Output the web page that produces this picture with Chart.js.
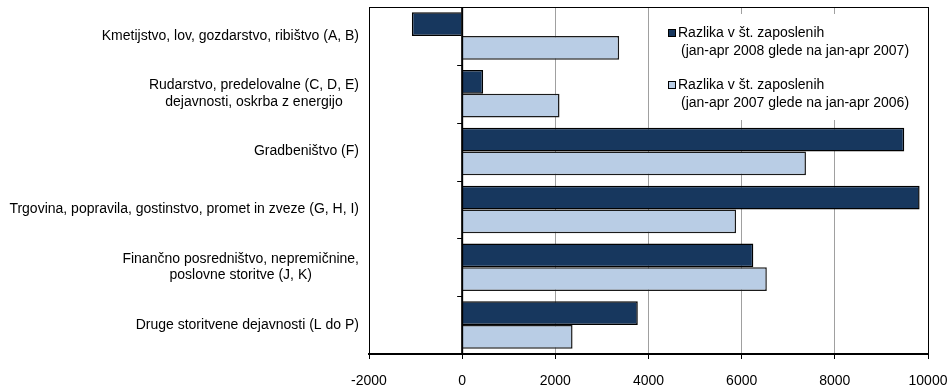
<!DOCTYPE html>
<html>
<head>
<meta charset="utf-8">
<script src="https://cdn.jsdelivr.net/npm/chart.js@4/dist/chart.umd.min.js"></script>
<style>
  html, body { margin: 0; padding: 0; background: #fff; }
  #wrap { width: 949px; height: 389px; }
</style>
</head>
<body>
<div id="wrap"><canvas id="c" width="949" height="389"></canvas></div>
<script>
// Activity sectors (multi-line labels)
const categories = [
  ['Kmetijstvo, lov, gozdarstvo, ribištvo (A, B)'],
  ['Rudarstvo, predelovalne (C, D, E)', 'dejavnosti, oskrba z energijo'],
  ['Gradbeništvo (F)'],
  ['Trgovina, popravila, gostinstvo, promet in zveze (G, H, I)'],
  ['Finančno posredništvo, nepremičnine,', 'poslovne storitve (J, K)'],
  ['Druge storitvene dejavnosti (L do P)']
];
// Change in number of employees
const change2008 = [-1080, 450, 9490, 9820, 6250, 3770];
const change2007 = [3370, 2090, 7380, 5880, 6540, 2370];
const seriesNames = [
  ['Razlika v št. zaposlenih', '(jan-apr 2008 glede na jan-apr 2007)'],
  ['Razlika v št. zaposlenih', '(jan-apr 2007 glede na jan-apr 2006)']
];
const xTicks = [-2000, 0, 2000, 4000, 6000, 8000, 10000];

const FONT = '"Liberation Sans", Arial, sans-serif';
const FONT_SIZE = 14;
const DARK = '#17375e';
const LIGHT = '#b9cde5';

const decorations = {
  id: 'decorations',
  afterDatasetsDraw(chart) {
    const { ctx, chartArea: a, scales } = chart;
    const x0 = scales.x.getPixelForValue(0);
    ctx.save();
    // zero line
    ctx.strokeStyle = '#000';
    ctx.lineWidth = 2;
    ctx.beginPath();
    ctx.moveTo(x0, a.top);
    ctx.lineTo(x0, a.bottom);
    ctx.stroke();
    // category separators on the zero axis
    const n = categories.length;
    const step = (a.bottom - a.top) / n;
    ctx.lineWidth = 1;
    for (let i = 0; i <= n; i++) {
      const y = Math.round(a.top + i * step) + 0.5;
      ctx.beginPath();
      ctx.moveTo(x0 - 5, y);
      ctx.lineTo(x0, y);
      ctx.stroke();
    }
    ctx.restore();
  },
  afterDraw(chart) {
    const { ctx, chartArea: a, scales } = chart;
    ctx.save();
    ctx.font = FONT_SIZE + 'px ' + FONT;
    ctx.fillStyle = '#000';
    ctx.textBaseline = 'middle';
    // category labels: block right-aligned, lines centered within the block
    categories.forEach((lines, i) => {
      const cy = scales.y.getPixelForValue(i);
      const bw = Math.max(...lines.map(l => ctx.measureText(l).width));
      const cx = a.left - 10 - bw / 2;
      ctx.textAlign = 'center';
      lines.forEach((l, k) => {
        ctx.fillText(l, cx, cy + (k - (lines.length - 1) / 2) * 16.5);
      });
    });
    // legend
    ctx.fillStyle = '#fff';
    ctx.fillRect(662, 14, 264, 106);
    const colors = [DARK, LIGHT];
    const rows = [33, 85];
    seriesNames.forEach((lines, i) => {
      const y = rows[i];
      ctx.fillStyle = colors[i];
      ctx.fillRect(668, y - 4, 8, 8);
      ctx.strokeStyle = '#000';
      ctx.lineWidth = 1;
      ctx.strokeRect(668.5, y - 3.5, 7, 7);
      ctx.fillStyle = '#000';
      ctx.textAlign = 'left';
      ctx.fillText(lines[0], 678, y);
      ctx.fillText(lines[1], 681, y + 18);
    });
    // plot frame
    ctx.strokeStyle = '#000';
    ctx.lineWidth = 1;
    ctx.strokeRect(Math.round(a.left) + 0.5, Math.round(a.top) + 0.5,
                   Math.round(a.right - a.left), Math.round(a.bottom - a.top));
    ctx.restore();
  }
};

new Chart(document.getElementById('c'), {
  type: 'bar',
  data: {
    labels: categories,
    datasets: [
      {
        label: seriesNames[0].join(' '),
        data: change2008,
        backgroundColor: DARK,
        borderColor: '#000',
        borderWidth: 1.5,
        categoryPercentage: 0.82,
        barPercentage: 1.0
      },
      {
        label: seriesNames[1].join(' '),
        data: change2007,
        backgroundColor: LIGHT,
        borderColor: '#1a1a1a',
        borderWidth: 1.5,
        categoryPercentage: 0.82,
        barPercentage: 1.0
      }
    ]
  },
  options: {
    indexAxis: 'y',
    responsive: false,
    animation: false,
    devicePixelRatio: 1,
    layout: { padding: { left: 369, top: 7, right: 21, bottom: 0 } },
    plugins: {
      legend: { display: false },
      tooltip: { enabled: false }
    },
    scales: {
      x: {
        min: -2000,
        max: 10000,
        afterBuildTicks: s => { s.ticks = xTicks.map(v => ({ value: v })); },
        afterFit: s => { s.height = 35; s.paddingLeft = 0; s.paddingRight = 0; },
        ticks: {
          color: '#000',
          font: { family: FONT, size: FONT_SIZE },
          maxRotation: 0,
          padding: 14,
          callback: v => String(v)
        },
        grid: {
          color: c => (c.tick && (c.tick.value === -2000 || c.tick.value === 10000 || c.tick.value === 0)) ? '#000' : '#a0a0a0',
          lineWidth: 1,
          tickColor: '#000',
          tickLength: 5,
          drawTicks: true
        },
        border: { display: true, color: '#000', width: 2 }
      },
      y: {
        ticks: { display: false },
        grid: { display: false },
        border: { display: false },
        afterFit: s => { s.width = 0; }
      }
    }
  },
  plugins: [decorations]
});
</script>
</body>
</html>
